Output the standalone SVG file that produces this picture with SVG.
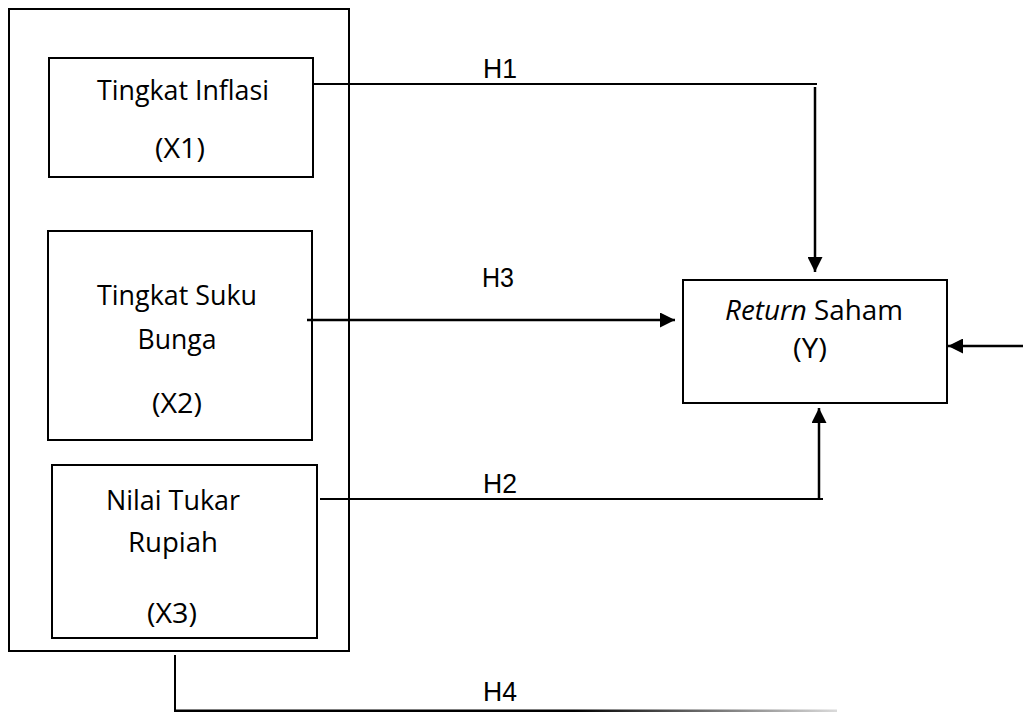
<svg xmlns="http://www.w3.org/2000/svg" width="1023" height="713" viewBox="0 0 1023 713">
<style>
.box{fill:#fff;stroke:#000;stroke-width:2}
.t{font-family:"Open Sans","Noto Sans",sans-serif;font-size:27.5px;fill:#000;text-anchor:middle}
.h{font-family:"Liberation Sans Narrow","Liberation Sans",sans-serif;font-size:27px;fill:#000;text-anchor:middle}
.ln{stroke:#000;stroke-width:2;fill:none}
.ar{stroke:#000;stroke-width:2.5;fill:none;marker-end:url(#ah)}
</style>
<defs>
<marker id="ah" viewBox="0 0 15 15" refX="15" refY="7.5" markerWidth="15" markerHeight="15" orient="auto" markerUnits="userSpaceOnUse">
<path d="M0,0 L15,7.5 L0,15 z" fill="#000"/>
</marker>
<linearGradient id="fade" gradientUnits="userSpaceOnUse" x1="175" y1="0" x2="840" y2="0">
<stop offset="0" stop-color="#000"/>
<stop offset="0.6" stop-color="#000"/>
<stop offset="1" stop-color="#ddd"/>
</linearGradient>
</defs>
<rect width="1023" height="713" fill="#fff"/>
<g id="outer"><rect class="box" x="9" y="9" width="340" height="642"/></g>
<g id="x1">
<rect class="box" x="49" y="58" width="264" height="119"/>
<text class="t" x="183" y="100" textLength="172" lengthAdjust="spacingAndGlyphs">Tingkat Inflasi</text>
<text class="t" x="180" y="158" textLength="50" lengthAdjust="spacingAndGlyphs">(X1)</text>
</g>
<g id="x2">
<rect class="box" x="48" y="231" width="264" height="209"/>
<text class="t" x="177" y="305" textLength="160" lengthAdjust="spacingAndGlyphs">Tingkat Suku</text>
<text class="t" x="177" y="349" textLength="79" lengthAdjust="spacingAndGlyphs">Bunga</text>
<text class="t" x="177" y="413" textLength="50" lengthAdjust="spacingAndGlyphs">(X2)</text>
</g>
<g id="x3">
<rect class="box" x="52" y="465" width="265" height="173"/>
<text class="t" x="173" y="510" textLength="134" lengthAdjust="spacingAndGlyphs">Nilai Tukar</text>
<text class="t" x="173" y="552" textLength="90" lengthAdjust="spacingAndGlyphs">Rupiah</text>
<text class="t" x="172" y="623" textLength="50" lengthAdjust="spacingAndGlyphs">(X3)</text>
</g>
<g id="y">
<rect class="box" x="683" y="280" width="264" height="123"/>
<text class="t" x="814" y="320" textLength="178" lengthAdjust="spacingAndGlyphs"><tspan font-style="italic">Return</tspan> Saham</text>
<text class="t" x="810" y="358" textLength="34" lengthAdjust="spacingAndGlyphs">(Y)</text>
</g>
<g id="connectors">
<line class="ln" x1="313" y1="84" x2="817" y2="84"/>
<line class="ar" x1="815" y1="87" x2="815" y2="272"/>
<line class="ar" x1="307" y1="320" x2="675" y2="320"/>
<line class="ln" x1="320" y1="499" x2="823" y2="499"/>
<line class="ar" x1="819" y1="499" x2="819" y2="408"/>
<line class="ar" x1="1023" y1="346" x2="948" y2="346"/>
<line class="ln" x1="175" y1="655" x2="175" y2="712"/>
<rect x="175" y="709.5" width="662" height="2.5" fill="url(#fade)"/>
</g>
<g id="labels">
<text class="h" x="500" y="78" textLength="34" lengthAdjust="spacingAndGlyphs">H1</text>
<text class="h" x="498" y="287" textLength="32" lengthAdjust="spacingAndGlyphs">H3</text>
<text class="h" x="500" y="493" textLength="34" lengthAdjust="spacingAndGlyphs">H2</text>
<text class="h" x="500" y="701" textLength="34" lengthAdjust="spacingAndGlyphs">H4</text>
</g>
</svg>
